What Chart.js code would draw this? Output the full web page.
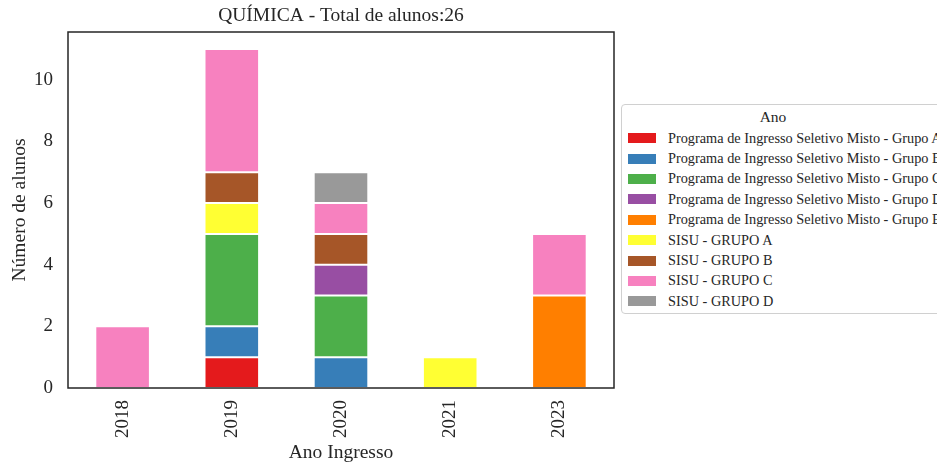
<!DOCTYPE html>
<html>
<head>
<meta charset="utf-8">
<script src="https://cdn.jsdelivr.net/npm/chart.js@4.4.0/dist/chart.umd.min.js"></script>
<style>
  html, body { margin:0; padding:0; width:937px; height:468px; overflow:hidden; background:#fff; }
  #wrap { position:relative; width:937px; height:468px; }
  #legend { position:absolute; left:621px; top:104px; width:340px; height:210px; border:1px solid #d0d0d0; border-radius:4px;
    font-family:"Liberation Serif", serif; color:#262626; background:#fff; box-sizing:border-box; }
  #legend .ttl { text-align:center; font-size:15.5px; margin-top:3px; height:20px; padding-right:36px; }
  #legend .row { height:20.4px; display:flex; align-items:center; font-size:14.3px; white-space:nowrap; }
  #legend .sw { width:28px; height:10px; margin-left:6px; margin-right:12px; }
</style>
</head>
<body>
<div id="wrap">
  <canvas id="myChart" width="937" height="468"></canvas>
  <div id="legend"></div>
</div>
<script>
// data
const anos = ['2018', '2019', '2020', '2021', '2023']
const grupos = [
  'Programa de Ingresso Seletivo Misto - Grupo A',
  'Programa de Ingresso Seletivo Misto - Grupo B',
  'Programa de Ingresso Seletivo Misto - Grupo C',
  'Programa de Ingresso Seletivo Misto - Grupo D',
  'Programa de Ingresso Seletivo Misto - Grupo E',
  'SISU - GRUPO A',
  'SISU - GRUPO B',
  'SISU - GRUPO C',
  'SISU - GRUPO D'
]
const pismA = [0, 1, 0, 0, 0]
const pismB = [0, 1, 1, 0, 0]
const pismC = [0, 3, 2, 0, 0]
const pismD = [0, 0, 1, 0, 0]
const pismE = [0, 0, 0, 0, 3]
const sisuA = [0, 1, 0, 1, 0]
const sisuB = [0, 1, 1, 0, 0]
const sisuC = [2, 4, 1, 0, 2]
const sisuD = [0, 0, 1, 0, 0]
const yTicks = [0, 2, 4, 6, 8, 10]
const totalAlunos = 26

const cores = ['#e41a1c', '#377eb8', '#4daf4a', '#984ea3', '#ff7f00', '#ffff33', '#a65628', '#f781bf', '#999999']
const series = [pismA, pismB, pismC, pismD, pismE, sisuA, sisuB, sisuC, sisuD]

const fonte = '"Liberation Serif", "DejaVu Serif", serif'
const txt = '#262626'

const datasets = series.map((vals, i) => ({
  label: grupos[i],
  data: vals,
  backgroundColor: cores[i],
  borderColor: '#ffffff',
  borderWidth: 1,
  borderSkipped: false,
  barPercentage: 0.5,
  categoryPercentage: 1.0
}))

// title + frame drawn over the plot area
const framePlugin = {
  id: 'frame',
  afterDraw(chart) {
    const ctx = chart.ctx
    const a = chart.chartArea
    ctx.save()
    ctx.strokeStyle = '#262626'
    ctx.lineWidth = 1.5
    ctx.strokeRect(a.left, a.top, a.right - a.left, a.bottom - a.top)
    ctx.fillStyle = txt
    ctx.font = '19.5px ' + fonte
    ctx.textAlign = 'center'
    ctx.textBaseline = 'middle'
    ctx.fillText('QUÍMICA - Total de alunos:' + totalAlunos, (a.left + a.right) / 2, 16)
    ctx.restore()
  }
}

const config = {
  type: 'bar',
  data: { labels: anos, datasets: datasets },
  options: {
    responsive: false,
    animation: false,
    layout: { padding: { top: 32, right: 323, left: 0, bottom: 0 } },
    plugins: {
      legend: { display: false },
      tooltip: { enabled: false }
    },
    scales: {
      x: {
        stacked: true,
        grid: { display: false, drawTicks: false },
        border: { display: false },
        ticks: { color: txt, font: { family: fonte, size: 19 }, minRotation: 90, maxRotation: 90, padding: 12 },
        title: { display: true, text: 'Ano Ingresso', color: txt, font: { family: fonte, size: 19.5 }, padding: { top: 0, bottom: 3 } },
        afterFit(s) { s.height = 80 }
      },
      y: {
        stacked: true,
        min: 0,
        max: 11.55,
        grid: { display: false, drawTicks: false },
        border: { display: false },
        afterBuildTicks(s) { s.ticks = yTicks.map(v => ({ value: v })) },
        ticks: { color: txt, font: { family: fonte, size: 19 }, padding: 15 },
        title: { display: true, text: 'Número de alunos', color: txt, font: { family: fonte, size: 19.5 }, padding: { top: 8, bottom: 0 } },
        afterFit(s) { s.width = 68 }
      }
    }
  },
  plugins: [framePlugin]
}

const myChart = new Chart(document.getElementById('myChart'), config)

// legend box on the right
const leg = document.getElementById('legend')
let html = '<div class="ttl">Ano</div>'
grupos.forEach((g, i) => {
  html += '<div class="row"><div class="sw" style="background:' + cores[i] + '"></div>' + g + '</div>'
})
leg.innerHTML = html
</script>
</body>
</html>
